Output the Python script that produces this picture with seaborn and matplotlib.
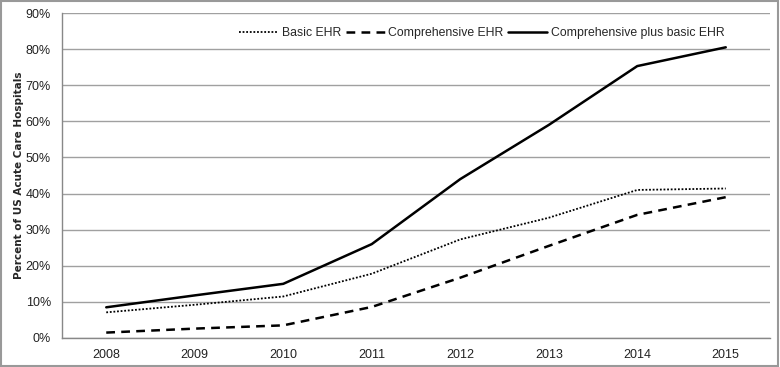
import matplotlib
matplotlib.use("Agg")
import matplotlib.pyplot as plt
import seaborn as sns
import pandas as pd
from matplotlib.ticker import FixedLocator, PercentFormatter

years = ["2008", "2009", "2010", "2011", "2012", "2013", "2014", "2015"]
basic = [7.1, 9.2, 11.5, 17.8, 27.3, 33.3, 41.0, 41.4]
comprehensive = [1.5, 2.6, 3.5, 8.6, 16.7, 25.5, 34.1, 39.0]
comp_plus_basic = [8.5, 11.8, 15.0, 26.0, 44.0, 59.0, 75.3, 80.5]
series_names = ["Basic EHR", "Comprehensive EHR", "Comprehensive plus basic EHR"]

sns.set_theme(style="white")
plt.rcParams['font.family'] = ['Liberation Sans Narrow', 'Liberation Sans', 'DejaVu Sans']

rows = []
for name, vals in zip(series_names, [basic, comprehensive, comp_plus_basic]):
    for i, (y, v) in enumerate(zip(years, vals)):
        rows.append({"idx": i, "year": y, "value": v, "series": name})
df = pd.DataFrame(rows)

fig = plt.figure(figsize=(7.8, 3.67), dpi=100)
ax = fig.add_axes([62/780, 29/367, 708/780, 325/367])

styles = {"Basic EHR": ((0, (1, 1)), 1.3),
          "Comprehensive EHR": ((0, (3.5, 2.5)), 1.8),
          "Comprehensive plus basic EHR": ("-", 1.8)}
for name in series_names:
    sub = df[df.series == name]
    ls, lw = styles[name]
    sns.lineplot(data=sub, x="idx", y="value", ax=ax, color="black",
                 linestyle=ls, linewidth=lw, label=name)

ax.set_xlim(-0.5, 7.5)
ax.set_ylim(0, 90)
ax.yaxis.set_major_locator(FixedLocator(range(0, 91, 10)))
ax.yaxis.set_major_formatter(PercentFormatter(decimals=0))
ax.grid(axis="y", color="#a0a0a0", linewidth=1)
ax.set_axisbelow(True)
ax.set_xticks(range(8))
ax.set_xticklabels(years)
ax.set_xticks([i - 0.5 for i in range(9)], minor=True)
ax.tick_params(axis="x", which="major", length=0, pad=8, labelsize=9, colors="#222222")
ax.tick_params(axis="x", which="minor", length=5, color="#888888", direction="out")
ax.tick_params(axis="y", which="major", length=5, color="#888888", direction="out",
               labelsize=9, labelcolor="#222222", pad=3)
for s in ["top", "right"]:
    ax.spines[s].set_visible(False)
for s in ["left", "bottom"]:
    ax.spines[s].set_color("#888888")
    ax.spines[s].set_linewidth(1)
ax.set_xlabel("")
ax.set_ylabel("Percent of US Acute Care Hospitals", fontsize=7.5, fontweight="bold",
              family=["DejaVu Sans"], labelpad=1)

leg = ax.legend(loc="upper center", bbox_to_anchor=(0.593, 0.99), ncol=3, frameon=False,
                fontsize=8.8, handlelength=3.17, handletextpad=0.3, columnspacing=0.4)

fig.patches.append(plt.Rectangle((0.001, 0.002), 0.997, 0.995, transform=fig.transFigure,
                                 fill=False, edgecolor="#999999", linewidth=1.5))
fig.savefig("out.png", dpi=100)
